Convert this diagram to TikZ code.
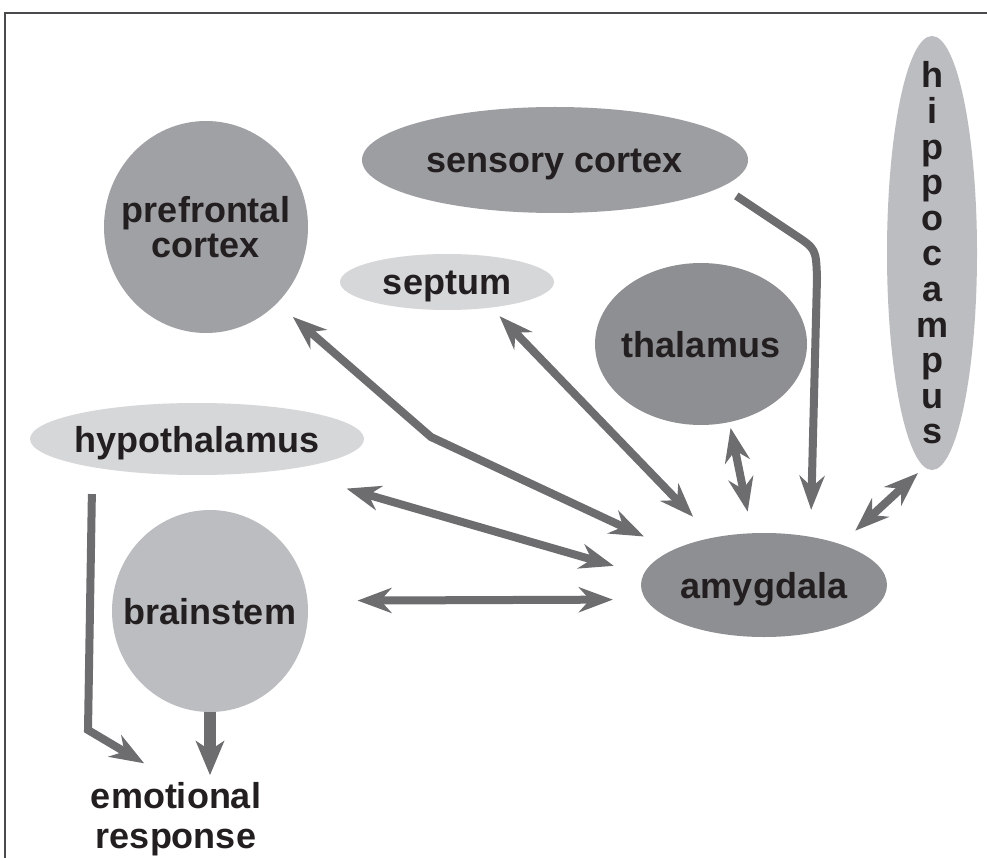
\documentclass[tikz,border=0pt]{standalone}
\usepackage{fontspec}
\setmainfont{Liberation Sans}
\usetikzlibrary{arrows.meta,shapes.geometric}
\definecolor{pfccol}{HTML}{A0A1A5}
\definecolor{senscol}{HTML}{9D9EA2}
\definecolor{darkcol}{HTML}{8E8F93}
\definecolor{midcol}{HTML}{BCBDC1}
\definecolor{lightcol}{HTML}{D6D7D9}
\definecolor{arrcol}{HTML}{6D6D6F}
\definecolor{txtcol}{HTML}{231F20}
\definecolor{framecol}{HTML}{4A4A4C}
\tikzset{
  headA/.tip={Stealth[length=34pt,width=25pt,inset=11pt]},
  headB/.tip={Stealth[length=34pt,width=28pt,inset=9pt]},
  blob/.style={ellipse, inner xsep=-300pt, inner ysep=-300pt, outer sep=0pt,
    text=txtcol, font=\fontsize{36}{36}\selectfont\bfseries},
  oneline/.style={blob, text height=26pt, text depth=0pt},
  arr/.style={draw=arrcol, line width=8pt, -headA},
  dbl/.style={draw=arrcol, line width=8pt, headA-headA},
  thick arr/.style={draw=arrcol, line width=12pt, -headB},
}
\begin{document}
\begin{tikzpicture}[x=1pt,y=-1pt]
\useasboundingbox (0,0) rectangle (987,858);
\fill[white] (0,0) rectangle (987,858);
\draw[framecol, line width=1.5pt] (5,858) -- (5,13) -- (987,13);

% nodes
\node[blob, fill=pfccol, minimum width=204pt, minimum height=212pt, align=center,
  font=\fontsize{36}{35}\selectfont\bfseries] (pfc) at (206,227) {prefrontal\\cortex};
\node[oneline, fill=senscol, minimum width=386pt, minimum height=106pt] (sens) at (555,160) {sensory cortex};
\node[oneline, fill=lightcol, minimum width=214pt, minimum height=56pt] (sep) at (447,282) {septum};
\node[oneline, fill=darkcol, minimum width=212pt, minimum height=162pt] (thal) at (701,344) {thalamus};
\node[blob, fill=midcol, minimum width=90pt, minimum height=434pt, align=center,
  font=\fontsize{36}{35.6}\selectfont\bfseries] (hip) at (932,253)
  {h\\i\\p\\p\\o\\c\\a\\m\\p\\u\\s};
\node[oneline, fill=lightcol, minimum width=334pt, minimum height=72pt] (hyp) at (197,439) {hypothalamus};
\node[oneline, fill=midcol, minimum width=196pt, minimum height=202pt] (brain) at (210,611) {brainstem};
\node[oneline, fill=darkcol, minimum width=246pt, minimum height=104pt] (amy) at (764,585) {amygdala};
\node[inner sep=0pt, outer sep=0pt, align=center, text=txtcol,
  font=\fontsize{36}{40}\selectfont\bfseries] (er) at (176,819) {emotional\\response};

% bend points
\coordinate (pb) at (431,437);
\coordinate (sb1) at (795,235);
\coordinate (sb2) at (816,249);
\coordinate (sb3) at (817,278);
\coordinate (hb) at (88,730);

% connectors
\draw[dbl, shorten <=21pt, shorten >=32pt] (pfc.-47.7) -- (pb) -- (amy.159.8);
\draw[dbl, shorten <=12pt, shorten >=29pt] (sep.-30.2) -- (amy.137.2);
\draw[dbl, shorten <=67pt, shorten >=31pt] (hyp.-20.5) -- (amy.175.6);
\draw[dbl, shorten <=50pt, shorten >=33pt] (brain.6.4) -- (amy.187.3);
\draw[dbl, shorten <=6pt, shorten >=22pt] (thal.-70.4) -- (amy.103.8);
\draw[arr, shorten <=17pt, shorten >=27pt] (sens.-9.4) -- (sb1) .. controls (sb2) .. (sb3) -- (amy.46.8);
\draw[dbl, shorten <=9pt, shorten >=20pt] (hip.-92) -- (amy.28);
\draw[arr, shorten <=27pt, shorten >=37pt] (hyp.-165.9) -- (hb) -- (er.north);
\draw[thick arr, shorten >=7pt] (brain.south) -- (brain.south |- er.north);
\end{tikzpicture}
\end{document}
